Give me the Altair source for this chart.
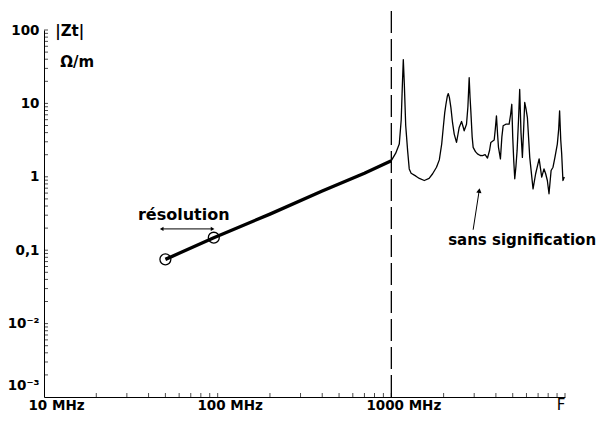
import altair as alt
import pandas as pd

# ---- data ----
# low-frequency measured part (thick straight line)
low_f = [50, 95, 200, 400, 700, 1000]
low_z = [0.075, 0.148, 0.31, 0.64, 1.12, 1.65]

# high-frequency part ("sans signification")
high_f = [1000, 1060, 1111, 1140, 1158, 1172, 1188, 1210, 1241, 1268, 1300, 1386, 1450,
          1548, 1650, 1729, 1820, 1889, 1950, 1991, 2030, 2063, 2100, 2128, 2160, 2203,
          2250, 2302, 2373, 2420, 2459, 2537, 2590, 2627, 2709, 2760, 2807, 2840, 2869,
          2920, 2959, 3050, 3133, 3250, 3350, 3468, 3578, 3680, 3741, 3911, 3970, 4030,
          4090, 4140, 4248, 4330, 4403, 4563, 4768, 4860, 4938, 5000, 5068, 5137, 5220,
          5298, 5400, 5484, 5580, 5684, 5780, 5861, 5960, 6074, 6266, 6546, 6776, 7096,
          7345, 7569, 7739, 7913, 8089, 8318, 8531, 8750, 9032, 9200, 9310, 9450, 9570,
          9729, 9910]
high_z = [1.66, 2.1, 2.79, 6.0, 18.2, 39.6, 18.2, 5.0, 2.27, 1.28, 1.12, 1.02, 0.95,
          0.89, 0.95, 1.10, 1.35, 1.70, 2.8, 4.70, 7.5, 9.73, 12.5, 13.6, 12.0, 8.77,
          5.5, 3.82, 2.94, 3.8, 4.70, 5.67, 4.8, 4.24, 5.21, 9.0, 22.4, 12.0, 7.91,
          3.5, 2.52, 2.2, 2.05, 1.95, 1.94, 2.00, 1.80, 2.3, 2.94, 3.17, 4.5, 6.77,
          3.8, 2.52, 1.75, 3.5, 4.95, 5.21, 5.21, 7.0, 9.73, 3.5, 1.66, 0.94, 1.4,
          2.27, 6.0, 15.5, 4.0, 1.84, 4.5, 10.3, 8.5, 6.42, 1.84, 0.686, 1.10, 1.75,
          0.99, 1.28, 1.10, 0.89, 0.587, 1.22, 1.35, 1.84, 2.79, 4.5, 7.91, 3.2, 2.05,
          0.89, 0.99]

# resolution circles
circ_f = [50, 95]
circ_z = [0.075, 0.148]

# axis ticks / labels
x_major = [10, 100, 1000]
x_labels = ["10 MHz", "100 MHz", "1000 MHz"]
x_minor = [20, 30, 40, 50, 60, 70, 80, 90, 100,
           200, 300, 400, 500, 600, 700, 800, 900, 1000,
           2000, 3000, 4000, 5000, 6000, 7000, 8000, 9000, 10000]
y_major = [100, 10, 1, 0.1, 0.01, 0.001]
y_exp = [2, 1, 0, -1, -2, -3]
y_labels = ["100", "10", "1", "0,1", "10⁻²", "10⁻³"]
y_minor = [m * d for d in [0.001, 0.01, 0.1, 1, 10] for m in range(2, 11)]

# annotations
dash_f = [1000, 1000]
dash_z = [0.001, 280]
res_arrow_f = [47.6, 93.5]
res_arrow_z = [0.195, 0.195]
sans_arrow_f = [2958, 3206]
sans_arrow_z = [0.19, 0.65]
texts = ["|Zt|", "Ω/m", "résolution", "sans signification"]
text_f = [11.6, 12.4, 63.8, 5662]
text_z = [96, 37, 0.305, 0.138]
text_align = ["left", "left", "center", "center"]
text_size = [15, 15, 16, 15]

XMIN, XMAX = 10, 10000
YMIN, YMAX = 0.001, 100
FONT = "DejaVu Sans"
W, H = 521, 367

xs = alt.Scale(type="log", domain=[XMIN, XMAX], nice=False)
ys = alt.Scale(type="log", domain=[YMIN, YMAX], nice=False)

x_expr = " : ".join(f"datum.value == {v} ? '{l}'" for v, l in zip(x_major, x_labels)) + " : ''"
y_expr = " : ".join(f"round(log(datum.value)/LN10) == {e} ? '{l}'" for e, l in zip(y_exp, y_labels)) + " : ''"

xaxis = alt.Axis(values=x_major, labelExpr=x_expr, ticks=False, grid=False,
                 domainColor="black", domainWidth=1, labelFont=FONT, labelFontSize=13.5,
                 labelFontWeight="bold", labelColor="black", labelPadding=1,
                 labelOffset=12, labelBaseline="top", labelFlush=False, labelOverlap=False,
                 title="F", titleFont=FONT, titleFontSize=15, titleFontWeight="normal",
                 titleColor="black", titleX=W, titleY=0, titleAlign="right",
                 titleBaseline="top", titleAnchor="end")
yaxis = alt.Axis(values=y_major, labelExpr=y_expr, ticks=False, grid=False,
                 domainColor="black", domainWidth=1, labelFont=FONT, labelFontSize=13.5,
                 labelFontWeight="bold", labelColor="black", labelPadding=5,
                 labelFlush=False, labelOverlap=False, title=None,
                 labelOffset={"condition": {"test": "datum.value < 0.002", "value": -12}, "value": 0})


def X(field):
    return alt.X(field, type="quantitative", scale=xs, axis=xaxis)


def Y(field):
    return alt.Y(field, type="quantitative", scale=ys, axis=yaxis)


low_df = pd.DataFrame({"f": low_f, "z": low_z})
high_df = pd.DataFrame({"f": high_f, "z": high_z})
circ_df = pd.DataFrame({"f": circ_f, "z": circ_z})
xt_df = pd.DataFrame({"f": x_minor, "z": [YMIN] * len(x_minor)})
yt_df = pd.DataFrame({"f": [XMIN] * len(y_minor), "z": y_minor})
dash_df = pd.DataFrame({"f": [dash_f[0]], "z": [dash_z[0]], "z2": [dash_z[1]]})
resar_df = pd.DataFrame({"f": res_arrow_f, "z": res_arrow_z})
sansar_df = pd.DataFrame({"f": sans_arrow_f, "z": sans_arrow_z})

low = alt.Chart(low_df).mark_line(color="black", strokeWidth=3.3).encode(x=X("f"), y=Y("z"))
high = alt.Chart(high_df).mark_line(color="black", strokeWidth=1.3,
                                    strokeJoin="round").encode(x=X("f"), y=Y("z"))
circ = alt.Chart(circ_df).mark_point(shape="circle", size=120, filled=False, color="black",
                                     strokeWidth=1.3, opacity=1).encode(x=X("f"), y=Y("z"))
xt = alt.Chart(xt_df).mark_tick(orient="vertical", size=4, thickness=1, color="black",
                                yOffset=-2).encode(x=X("f"), y=Y("z"))
yt = alt.Chart(yt_df).mark_tick(orient="horizontal", size=4, thickness=1, color="black",
                                xOffset=2).encode(x=X("f"), y=Y("z"))
dash = alt.Chart(dash_df).mark_rule(color="black", strokeWidth=1.3, strokeDash=[22, 6],
                                    clip=False).encode(x=X("f"), y=Y("z"), y2="z2:Q")
resar = alt.Chart(resar_df).mark_line(color="black", strokeWidth=1).encode(x=X("f"), y=Y("z"))
resh_l = alt.Chart(resar_df.iloc[[0]]).mark_point(shape="triangle-left", size=18, filled=True,
                                                  color="black", opacity=1).encode(x=X("f"), y=Y("z"))
resh_r = alt.Chart(resar_df.iloc[[1]]).mark_point(shape="triangle-right", size=18, filled=True,
                                                  color="black", opacity=1).encode(x=X("f"), y=Y("z"))
sansar = alt.Chart(sansar_df).mark_line(color="black", strokeWidth=1).encode(x=X("f"), y=Y("z"))
sansh = alt.Chart(sansar_df.iloc[[1]]).mark_point(shape="triangle-up", size=28, filled=True, angle=9,
                                                  color="black", opacity=1).encode(x=X("f"), y=Y("z"))

txt_layers = []
for t, f, z, a, s in zip(texts, text_f, text_z, text_align, text_size):
    d = pd.DataFrame({"t": [t], "f": [f], "z": [z]})
    txt_layers.append(
        alt.Chart(d).mark_text(font=FONT, fontSize=s, fontWeight="bold", color="black",
                               align=a, baseline="middle", clip=False)
        .encode(x=X("f"), y=Y("z"), text="t:N")
    )

chart = alt.layer(low, high, dash, xt, yt, circ, resar, resh_l, resh_r, sansar, sansh,
                  *txt_layers).properties(
    width=W, height=H,
    autosize=alt.AutoSizeParams(type="none"),
    padding={"left": 36, "top": 22, "right": 34, "bottom": 16},
    background="white",
).configure_view(stroke=None)

chart.save("out.html", embed_options={"renderer": "svg", "actions": False})
